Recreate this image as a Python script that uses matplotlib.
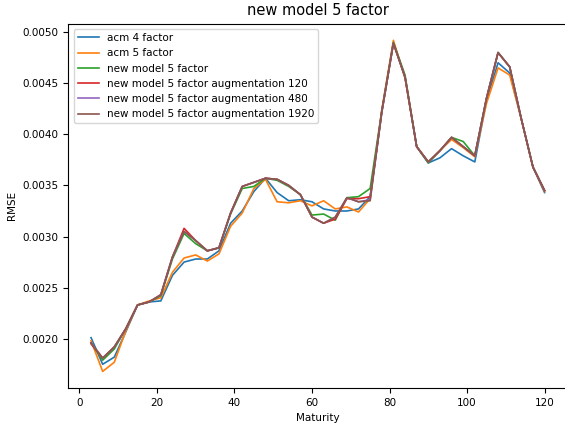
import numpy as np
import matplotlib
matplotlib.use("Agg")
import matplotlib.pyplot as plt

# maturities 3..120 step 3
maturity = list(range(3, 121, 3))

acm_4 = [0.00201, 0.00175, 0.00182, 0.00207, 0.00233, 0.00236, 0.00237, 0.00262, 0.00275, 0.00278,
         0.00278, 0.00286, 0.00313, 0.00325, 0.00344, 0.00357, 0.00343, 0.00335, 0.00336, 0.00334,
         0.00327, 0.00325, 0.00325, 0.00327, 0.00339, 0.00421, 0.00490, 0.00456, 0.00388, 0.00372,
         0.00377, 0.00386, 0.00379, 0.00373, 0.00433, 0.00470, 0.00460, 0.00415, 0.00368, 0.00343]
acm_5 = [0.00198, 0.00168, 0.00177, 0.00208, 0.00233, 0.00237, 0.00240, 0.00265, 0.00279, 0.00282,
         0.00276, 0.00283, 0.00310, 0.00323, 0.00347, 0.00356, 0.00334, 0.00333, 0.00335, 0.00330,
         0.00335, 0.00327, 0.00329, 0.00324, 0.00337, 0.00424, 0.00492, 0.00455, 0.00388, 0.00373,
         0.00384, 0.00395, 0.00387, 0.00378, 0.00430, 0.00465, 0.00458, 0.00415, 0.00368, 0.00344]
new_5 = [0.00196, 0.00179, 0.00190, 0.00210, 0.00233, 0.00236, 0.00242, 0.00278, 0.00303, 0.00293,
         0.00286, 0.00289, 0.00322, 0.00347, 0.00349, 0.00357, 0.00355, 0.00349, 0.00341, 0.00321,
         0.00322, 0.00316, 0.00338, 0.00339, 0.00347, 0.00423, 0.00490, 0.00458, 0.00388, 0.00372,
         0.00384, 0.00397, 0.00393, 0.00379, 0.00435, 0.00480, 0.00466, 0.00415, 0.00368, 0.00345]
aug_120 = [0.00195, 0.00181, 0.00192, 0.00210, 0.00233, 0.00236, 0.00243, 0.00280, 0.00308, 0.00296,
           0.00286, 0.00289, 0.00323, 0.00349, 0.00353, 0.00357, 0.00356, 0.00350, 0.00341, 0.00319,
           0.00313, 0.00317, 0.00337, 0.00337, 0.00339, 0.00422, 0.00489, 0.00456, 0.00388, 0.00373,
           0.00384, 0.00397, 0.00388, 0.00379, 0.00435, 0.00480, 0.00466, 0.00415, 0.00368, 0.00345]
aug_480 = [0.00196, 0.00181, 0.00192, 0.00210, 0.00233, 0.00236, 0.00243, 0.00280, 0.00305, 0.00296,
           0.00286, 0.00289, 0.00323, 0.00349, 0.00353, 0.00357, 0.00356, 0.00350, 0.00341, 0.00319,
           0.00313, 0.00319, 0.00338, 0.00334, 0.00336, 0.00422, 0.00489, 0.00456, 0.00388, 0.00373,
           0.00384, 0.00397, 0.00388, 0.00379, 0.00435, 0.00480, 0.00466, 0.00415, 0.00368, 0.00345]
aug_1920 = [0.00196, 0.00181, 0.00192, 0.00210, 0.00233, 0.00236, 0.00243, 0.00280, 0.00305, 0.00296,
            0.00286, 0.00289, 0.00323, 0.00349, 0.00353, 0.00357, 0.00356, 0.00350, 0.00341, 0.00319,
            0.00313, 0.00319, 0.00338, 0.00334, 0.00335, 0.00422, 0.00489, 0.00456, 0.00388, 0.00373,
            0.00384, 0.00397, 0.00388, 0.00379, 0.00435, 0.00480, 0.00466, 0.00415, 0.00368, 0.00345]

series = [
    ("acm 4 factor", acm_4),
    ("acm 5 factor", acm_5),
    ("new model 5 factor", new_5),
    ("new model 5 factor augmentation 120", aug_120),
    ("new model 5 factor augmentation 480", aug_480),
    ("new model 5 factor augmentation 1920", aug_1920),
]

plt.rcParams['font.size'] = 7.5

fig = plt.figure(figsize=(5.65, 4.28), dpi=100)
ax = fig.add_axes([0.121, 0.0935, 0.883, 0.851])
for name, vals in series:
    ax.plot(maturity, vals, label=name, linewidth=1.2)

ax.set_title("new model 5 factor", fontsize=10.5)
ax.set_xlabel("Maturity")
ax.set_ylabel("RMSE")
ax.legend(loc="upper left")

fig.savefig("out.png", dpi=100)
